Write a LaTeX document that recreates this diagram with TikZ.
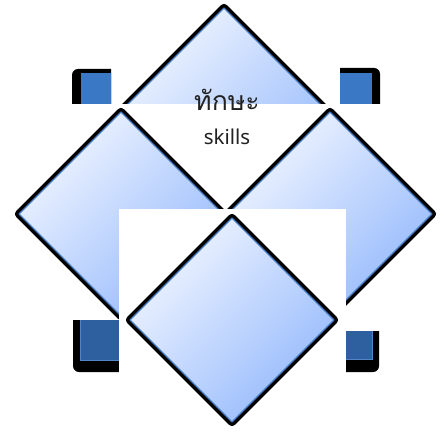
\documentclass[tikz,border=0pt]{standalone}
\usepackage{fontspec}
\setmainfont{Noto Sans}
\newfontfamily\thaifont[Script=Thai,Scale=1.3]{Loma}

\definecolor{skilltop}{RGB}{240,245,255}
\definecolor{skillbottom}{RGB}{150,186,252}
\definecolor{skillline}{RGB}{70,122,192}
\definecolor{boxtop}{RGB}{58,119,196}
\definecolor{boxbottom}{RGB}{46,95,158}
\definecolor{boxline}{RGB}{82,132,200}
\definecolor{labeltext}{RGB}{34,34,34}

\tikzset{
  diamondshadow/.style={fill=black, draw=black, line width=8pt, line join=round},
  diamondline/.style={draw=black, line width=8pt, line join=round},
  diamondfill/.style={top color=skilltop, bottom color=skillbottom, shading angle=45},
  diamondedge/.style={draw=skillline, line width=1.2pt, line join=round},
}

% one rotated square around a named centre
\newcommand{\skilldiamond}[1]{%
  \fill[diamondshadow, xshift=1.5pt, yshift=-2.5pt] (#1) ++(0,-102) -- ++(102,102) -- ++(-102,102) -- ++(-102,-102) -- cycle;
  \draw[diamondline] (#1) ++(0,-102) -- ++(102,102) -- ++(-102,102) -- ++(-102,-102) -- cycle;
  \shade[diamondfill] (#1) ++(0,-102) -- ++(102,102) -- ++(-102,102) -- ++(-102,-102) -- cycle;
  \draw[diamondedge] (#1) ++(0,-102) -- ++(102,102) -- ++(-102,102) -- ++(-102,-102) -- cycle;
}

\begin{document}
\begin{tikzpicture}[x=1pt, y=-1pt]
    \useasboundingbox (0,0) rectangle (446,435);
    \coordinate (top) at (224,110);
    \coordinate (left) at (121,214);
    \coordinate (right) at (330,214);
    \coordinate (bottom) at (232,320);

    % corner boxes
    \begin{scope}
      \clip (60,60) rectangle (111,104);
      \fill[black, rounded corners=6pt] (72,69) rectangle (130,130);
      \fill[boxtop] (81,73) rectangle (130,130);
    \end{scope}
    \begin{scope}
      \clip (340,60) rectangle (390,104);
      \fill[black, rounded corners=6pt] (320,68) rectangle (380,130);
      \fill[boxtop] (320,73) rectangle (372,130);
    \end{scope}
    \begin{scope}
      \clip (60,320) rectangle (119,380);
      \fill[black, rounded corners=6pt] (73,300) rectangle (140,372);
      \filldraw[boxbottom, draw=boxline, line width=1pt] (80,300) rectangle (140,360);
    \end{scope}
    \begin{scope}
      \clip (346,331) rectangle (390,380);
      \fill[black, rounded corners=6pt] (330,300) rectangle (379,372);
      \filldraw[boxbottom, draw=boxline, line width=1pt] (330,300) rectangle (372,359);
    \end{scope}

    \skilldiamond{top}
    \fill[white] (111,104) rectangle (340,209);
    \skilldiamond{left}
    \skilldiamond{right}
    \fill[white] (119,209) rectangle (346,380);
    \skilldiamond{bottom}

    \node[text=labeltext, font=\fontsize{20.5}{24}\selectfont] (thai) at (227,100) {\thaifont ทักษะ};
    \node[text=labeltext, font=\fontsize{20.5}{24}\selectfont] (eng) at (227,137) {skills};
\end{tikzpicture}
\end{document}
